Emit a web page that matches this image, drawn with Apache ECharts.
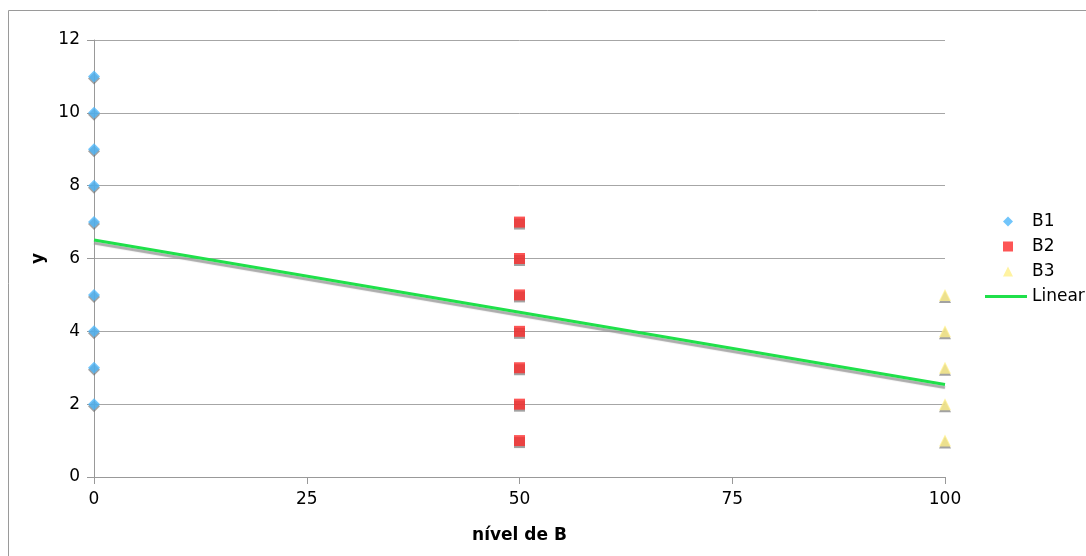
<!DOCTYPE html>
<html>
<head>
<meta charset="utf-8">
<script src="https://cdn.jsdelivr.net/npm/echarts@6/dist/echarts.min.js"></script>
<style>html,body{margin:0;padding:0;background:#fff}#c{width:1086px;height:556px}</style>
</head>
<body>
<div id="c"></div>
<script>
var b1X = 0, b2X = 50, b3X = 100;
var b1Values = [2, 3, 4, 5, 7, 8, 9, 10, 11];
var b2Values = [1, 2, 3, 4, 5, 6, 7];
var b3Values = [1, 2, 3, 4, 5];
var linearX = [0, 100];
var linearY = [6.51, 2.54];
var xTicks = [0, 25, 50, 75, 100];
var yTicks = [0, 2, 4, 6, 8, 10, 12];

var font = 'DejaVu Sans, Verdana, sans-serif';
var shadow = {shadowColor: 'rgba(110,110,110,0.8)', shadowBlur: 0, shadowOffsetX: 0, shadowOffsetY: 2};

function pts(x, vals) { return vals.map(function (v) { return [x, v]; }); }

var chart = echarts.init(document.getElementById('c'), null, {renderer: 'canvas'});
chart.setOption({
  animation: false,
  backgroundColor: '#fff',
  graphic: [{
    type: 'rect', silent: true,
    shape: {x: 8.5, y: 10.5, width: 1100, height: 560},
    style: {fill: 'none', stroke: '#9a9a9a', lineWidth: 1}
  }],
  grid: {left: 94, right: 141, top: 40, bottom: 79, containLabel: false},
  legend: [{
    orient: 'vertical', left: 1003, top: 213, padding: 0, itemWidth: 10, itemHeight: 10, itemGap: 8,
    textStyle: {fontFamily: font, fontSize: 17, color: '#000', padding: [0, 0, 0, 14]},
    data: [
      {name: 'B1', icon: 'diamond'},
      {name: 'B2', icon: 'rect'},
      {name: 'B3', icon: 'triangle'}
    ]
  }, {
    orient: 'vertical', left: 985, top: 288, padding: 0, itemWidth: 42, itemHeight: 3,
    textStyle: {fontFamily: font, fontSize: 17, color: '#000'},
    data: [{name: 'Linear', icon: 'rect'}]
  }],
  xAxis: {
    type: 'value', min: 0, max: 100, interval: 25,
    name: 'nível de B', nameLocation: 'middle', nameGap: 50,
    nameTextStyle: {fontFamily: font, fontSize: 17, fontWeight: 'bold', color: '#000'},
    axisLine: {show: true, onZero: false, lineStyle: {color: '#999', width: 1}},
    axisTick: {show: true, length: 7, lineStyle: {color: '#999'}},
    axisLabel: {fontFamily: font, fontSize: 17, color: '#000', margin: 14,
      formatter: function (v) { return xTicks.indexOf(v) >= 0 ? String(v) : ''; }},
    splitLine: {show: false}
  },
  yAxis: {
    type: 'value', min: 0, max: 12, interval: 2,
    name: 'y', nameLocation: 'middle', nameGap: 46, nameRotate: 90,
    nameTextStyle: {fontFamily: font, fontSize: 17, fontWeight: 'bold', color: '#000'},
    axisLine: {show: true, lineStyle: {color: '#999', width: 1}},
    axisTick: {show: true, length: 7, lineStyle: {color: '#999'}},
    axisLabel: {fontFamily: font, fontSize: 17, color: '#000', margin: 14,
      formatter: function (v) { return yTicks.indexOf(v) >= 0 ? String(v) : ''; }},
    splitLine: {show: true, lineStyle: {color: '#a6a6a6', width: 1}}
  },
  series: [
    {name: 'B1', type: 'scatter', symbol: 'diamond', symbolSize: 12, data: pts(b1X, b1Values),
      itemStyle: Object.assign({color: '#4db6fa'}, shadow), z: 3},
    {name: 'B2', type: 'scatter', symbol: 'rect', symbolSize: 11, data: pts(b2X, b2Values),
      itemStyle: Object.assign({color: '#fc2b2b'}, shadow), z: 3},
    {name: 'B3', type: 'scatter', symbol: 'triangle', symbolSize: 12, data: pts(b3X, b3Values),
      itemStyle: Object.assign({color: '#fff08a'}, shadow), z: 3},
    {name: 'Linear', type: 'line', showSymbol: false, symbol: 'none',
      data: linearX.map(function (x, i) { return [x, linearY[i]]; }),
      lineStyle: {color: '#1fe04a', width: 3, shadowColor: 'rgba(150,150,150,0.8)', shadowBlur: 1, shadowOffsetY: 3},
      itemStyle: {color: '#1fe04a'}, z: 4}
  ]
});
</script>
</body>
</html>
